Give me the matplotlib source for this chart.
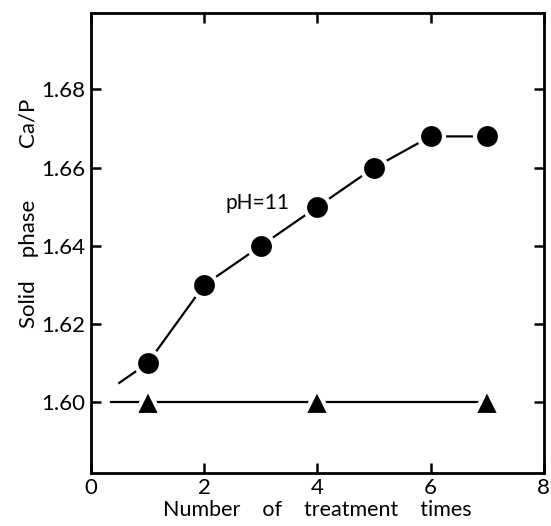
import matplotlib
matplotlib.use("Agg")
import matplotlib.pyplot as plt

# pH = 11 series (circles)
times_ph11 = [1, 2, 3, 4, 5, 6, 7]
ratio_ph11 = [1.610, 1.630, 1.640, 1.650, 1.660, 1.668, 1.668]
# lower series (triangles)
times_low = [1, 4, 7]
ratio_low = [1.600, 1.600, 1.600]
# where the drawn guide lines begin, left of the first point
lead_ph11 = (0.5, 1.605)
lead_low = (0.35, 1.600)

xticks = [0, 2, 4, 6, 8]
yticks = [1.60, 1.62, 1.64, 1.66, 1.68]
ytick_labels = ["1.60", "1.62", "1.64", "1.66", "1.68"]

plt.rcParams["font.family"] = ["Lato", "DejaVu Sans"]

fig = plt.figure(figsize=(5.51, 5.26), dpi=100)
fig.set_facecolor("white")
ax = fig.add_axes([0.165, 0.101, 0.822, 0.874])

# guide lines (drawn under the markers, gaps made by white marker edges)
ax.plot([lead_ph11[0]] + times_ph11, [lead_ph11[1]] + ratio_ph11,
        color="black", lw=1.6, zorder=1)
ax.plot([lead_low[0]] + times_low, [lead_low[1]] + ratio_low,
        color="black", lw=1.6, zorder=1)

ax.plot(times_ph11, ratio_ph11, linestyle="none", marker="o", ms=18,
        mfc="black", mec="white", mew=3, zorder=3)
ax.plot(times_low, ratio_low, linestyle="none", marker="^", ms=19,
        mfc="black", mec="white", mew=3, zorder=3)

ax.text(2.38, 1.651, "pH=11", fontsize=15, ha="left", va="center")

ax.set_xlim(0, 8)
ax.set_ylim(1.582, 1.6995)
ax.set_xticks(xticks)
ax.set_yticks(yticks)
ax.set_yticklabels(ytick_labels)
ax.tick_params(direction="in", top=True, right=True, length=7, width=1.8,
               labelsize=16, pad=4)
for sp in ax.spines.values():
    sp.set_linewidth(2)

ax.set_xlabel("Number    of    treatment    times", fontsize=15.5, labelpad=1)
ax.set_ylabel("Solid    phase         Ca/P", fontsize=16)
ax.yaxis.set_label_coords(-0.115, 0.565)

fig.savefig("out.png", dpi=100, facecolor="white")
